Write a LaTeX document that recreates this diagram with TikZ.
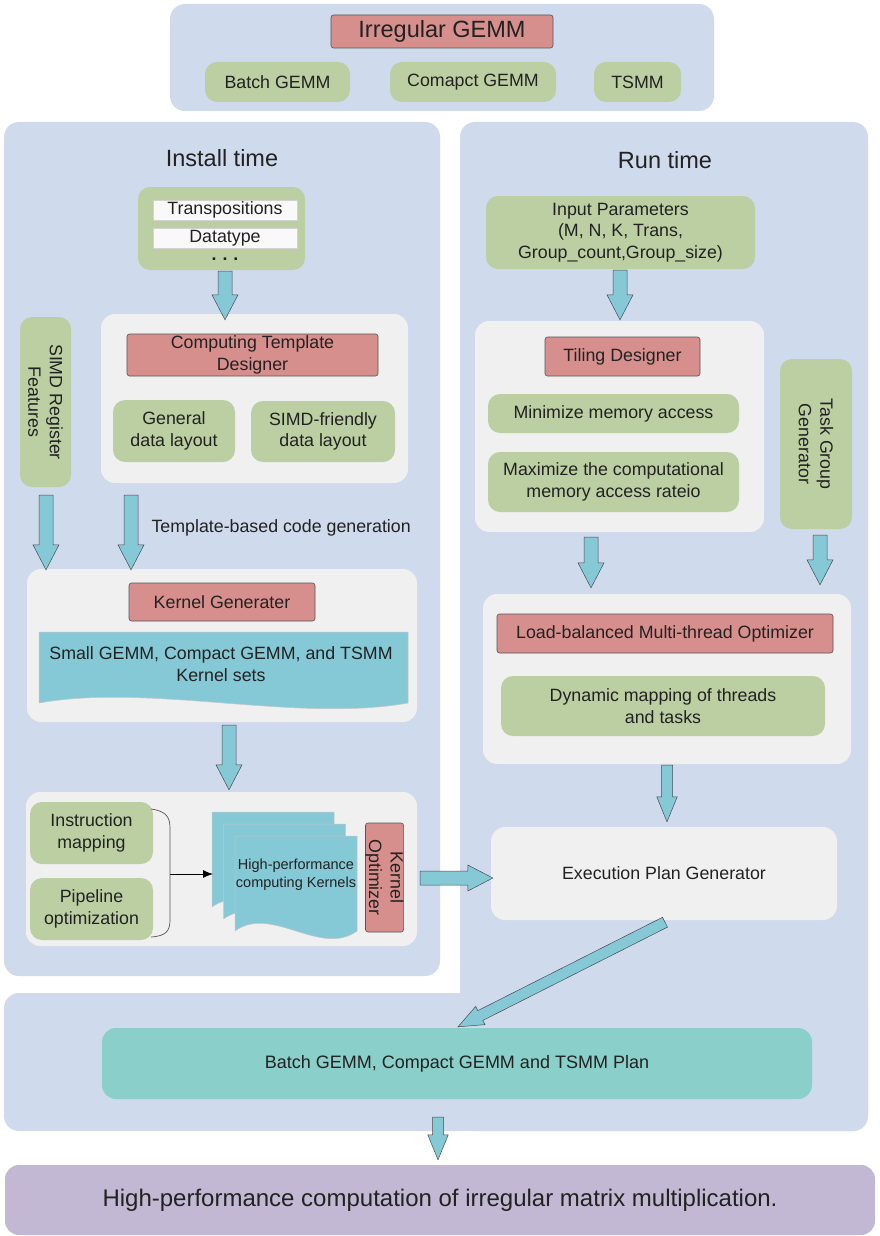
\documentclass[tikz,border=0pt]{standalone}
\usepackage{fontspec}
\setmainfont{Liberation Sans}
\usetikzlibrary{calc,arrows.meta}

\definecolor{panelblue}{HTML}{CFDAED}
\definecolor{panelgray}{HTML}{F0F0F0}
\definecolor{boxgreen}{HTML}{BCCFA3}
\definecolor{boxred}{HTML}{D68F8D}
\definecolor{redline}{HTML}{555555}
\definecolor{arrowcyan}{HTML}{86C9D6}
\definecolor{arrowline}{HTML}{4A4A4A}
\definecolor{planteal}{HTML}{8ACFC9}
\definecolor{resultpurple}{HTML}{C2B8D3}
\definecolor{textgray}{HTML}{222222}

\newcommand{\mainsz}{\fontsize{17.8}{21.5}\selectfont}
\newcommand{\titlesz}{\fontsize{23.5}{27}\selectfont}
\newcommand{\smallsz}{\fontsize{14.5}{18}\selectfont}

% document page with a wavy lower edge: x, y, width, height
\newcommand{\kerneldoc}[4]{%
  \filldraw[docpage, shift={(#1,#2)}] (0,0) -- (#3,0) -- (#3,#4)
    .. controls ({0.7*#3},{1.28*#4}) and ({0.3*#3},{0.72*#4}) .. (0,#4) -- cycle;}

\tikzset{
  wh/.style 2 args={minimum width=#1, minimum height=#2},
  panel/.style={fill=panelblue, rounded corners=15pt, inner sep=0pt},
  graypanel/.style={fill=panelgray, rounded corners=14pt, inner sep=0pt, align=center},
  greenbox/.style={fill=boxgreen, rounded corners=12pt, inner sep=0pt, align=center},
  redbox/.style={fill=boxred, draw=redline, line width=0.6pt, rounded corners=2.5pt, inner sep=0pt, align=center},
  strip/.style={fill=white!95!gray, draw=gray!35, line width=0.6pt, inner sep=0pt},
  docpage/.style={fill=arrowcyan, draw=gray!45, line width=0.5pt},
  fatarrow/.style={fill=arrowcyan, draw=arrowline, line width=0.5pt,
    to path={let \p1=(\tikztostart), \p2=(\tikztotarget),
      \n1={scalar(atan2(\y2-\y1,\x2-\x1))},
      \n2={scalar(veclen(\x2-\x1,\y2-\y1))-25},
      \n3={#1/2}, \n4={#1*0.93}, \n5={#1*0.93-#1/2}
    in (\p1) ++(\n1+90:\n3 pt) -- ++(\n1:\n2 pt) -- ++(\n1+90:\n5 pt) -- (\p2)
      -- ($(\p2)+(\n1+180:25pt)+(\n1-90:\n4 pt)$) -- ++(\n1+90:\n5 pt)
      -- ++(\n1+180:\n2 pt) -- cycle}},
  fatarrow/.default=14
}

\begin{document}
\begin{tikzpicture}[x=1pt, y=-1pt, every node/.style={font=\mainsz, text=textgray}]
\useasboundingbox (0,0) rectangle (879,1236);

\node[panel, wh={544}{107}] at (442,57.5) (top) {};
\node[panel, wh={436}{854}] at (222,549) (install) {};
\node[panel, wh={864}{138}] at (436,1062) (bottom) {};
\node[panel, wh={408}{1009}] at (664,626.5) (run) {};

\node[redbox, wh={222}{33}, font=\titlesz] at (442,31.5) (irr) {Irregular GEMM};
\node[greenbox, wh={145}{40}] at (277.5,82) (batch) {Batch GEMM};
\node[greenbox, wh={166}{40}] at (473,82) (compact) {Comapct GEMM};
\node[greenbox, wh={87}{40}] at (637.5,82) (tsmm) {TSMM};

\node[font=\titlesz] at (222,158) (insttitle) {Install time};
\node[font=\titlesz] at (665,160) (runtitle) {Run time};

% install time
\node[greenbox, wh={167}{83}] at (221.5,228.5) (params) {};
\node[strip, wh={144}{20}] at (225,210) (trans) {Transpositions};
\node[strip, wh={144}{20}] at (225,238) (dtype) {Datatype};
\node[inner sep=0pt] at (225,259) (dots) {\textbf{.\hspace{6pt}.\hspace{6pt}.}};

\node[graypanel, wh={307}{169}] at (254.5,398.5) (ctdp) {};
\node[redbox, wh={251}{42}] at (252.5,355) (ctd) {Computing Template\\Designer};
\node[greenbox, wh={122}{62}] at (174,431) (genlay) {General\\data layout};
\node[greenbox, wh={144}{61}] at (323,431.5) (simdlay) {SIMD-friendly\\data layout};
\node[greenbox, rotate=-90, wh={170}{51}] at (45.5,402) (simdreg) {SIMD Register\\Features};
\node[anchor=west] at (148,528) (tbcg) {Template-based code generation};

\node[graypanel, wh={390}{153}] at (222,645.5) (kgp) {};
\node[redbox, wh={186}{38}] at (222,602) (kg) {Kernel Generater};
\kerneldoc{39}{632}{369}{71}
\node[align=center, inner sep=0pt] at (221,664) (kset) {Small GEMM, Compact GEMM, and TSMM\\Kernel sets};

\node[graypanel, wh={391}{154}] at (221.5,869) (kop) {};
\node[greenbox, wh={123}{62}] at (91.5,833) (imap) {Instruction\\mapping};
\node[greenbox, wh={123}{62}] at (91.5,909) (popt) {Pipeline\\optimization};
\draw[redline, line width=0.7pt] (151,809) .. controls (166,811) and (170,817) .. (170,828)
  -- (170,920) .. controls (170,931) and (166,936) .. (151,937);
\kerneldoc{212}{812}{122}{95}
\kerneldoc{223.5}{824}{122}{95}
\kerneldoc{235}{836}{122}{95}
\node[font=\smallsz, align=center, inner sep=0pt] at (296,875) (hpck) {High-performance\\computing Kernels};
\node[redbox, rotate=-90, wh={109}{37}] at (384.5,877.5) (kopt) {Kernel\\Optimizer};
\coordinate (brace) at (170,874);
\coordinate (stack) at (213,874);
\draw[black, line width=0.8pt, -{Latex[length=10pt,width=8pt]}] (brace) -- (stack);

% run time
\node[greenbox, wh={269}{73}] at (620.5,232.5) (input) {Input Parameters\\(M, N, K, Trans,\\Group\_count,Group\_size)};
\node[graypanel, wh={289}{211}] at (619.5,426.5) (tilp) {};
\node[redbox, wh={155}{39}] at (622.5,356.5) (tiling) {Tiling Designer};
\node[greenbox, wh={251}{39}] at (613.5,413.5) (minmem) {Minimize memory access};
\node[greenbox, wh={251}{60}] at (613.5,482) (maxcomp) {Maximize the computational\\memory access rateio};
\node[greenbox, rotate=-90, wh={170}{72}] at (816,444) (task) {Task Group\\Generator};

\node[graypanel, wh={368}{170}] at (667,679) (lbp) {};
\node[redbox, wh={336}{39}] at (665,633.5) (lb) {Load-balanced Multi-thread Optimizer};
\node[greenbox, wh={324}{60}] at (663,706) (dyn) {Dynamic mapping of threads\\and tasks};
\node[graypanel, wh={346}{93}] at (664,873.5) (exec) {Execution Plan Generator};

\node[fill=planteal, rounded corners=14pt, wh={710}{71}, font=\fontsize{18}{21}\selectfont] at (457,1063.5) (plan) {Batch GEMM, Compact GEMM and TSMM Plan};
\node[fill=resultpurple, rounded corners=14pt, wh={870}{70}, font=\fontsize{24}{28}\selectfont] at (440,1200) (result) {High-performance computation of irregular matrix multiplication.};

\draw[fatarrow] ($(params.south)+(3.5,1)$) to ($(ctdp.north)+(-29.5,6)$);
\draw[fatarrow] ($(simdreg)+(0.5,93)$) to ($(kgp.north)+(-176,1)$);
\draw[fatarrow] ($(ctdp.south)+(-123.5,12)$) to ($(kgp.north)+(-91,1)$);
\draw[fatarrow] ($(kgp.south)+(7,3)$) to ($(kop.north)+(7.5,-2)$);
\draw[fatarrow] ($(kop.east)+(3,9)$) to ($(exec.west)+(2,4.5)$);
\draw[fatarrow] ($(input.south)+(-0.5,1)$) to ($(tilp.north)+(0.5,-1)$);
\draw[fatarrow] ($(tilp.south)+(-28.5,5)$) to ($(lbp.north)+(-76,-6)$);
\draw[fatarrow] ($(task)+(4,91)$) to ($(lbp.north)+(153,-9)$);
\draw[fatarrow=11] ($(lbp.south)+(0,1)$) to ($(exec.north)+(3,-5)$);
\draw[fatarrow=11] ($(exec.south)+(1,2)$) to ($(plan.north)+(1,-1)$);
\draw[fatarrow=11] ($(plan.south)+(-19,18)$) to ($(result.north)+(-2,-5)$);
\end{tikzpicture}
\end{document}
